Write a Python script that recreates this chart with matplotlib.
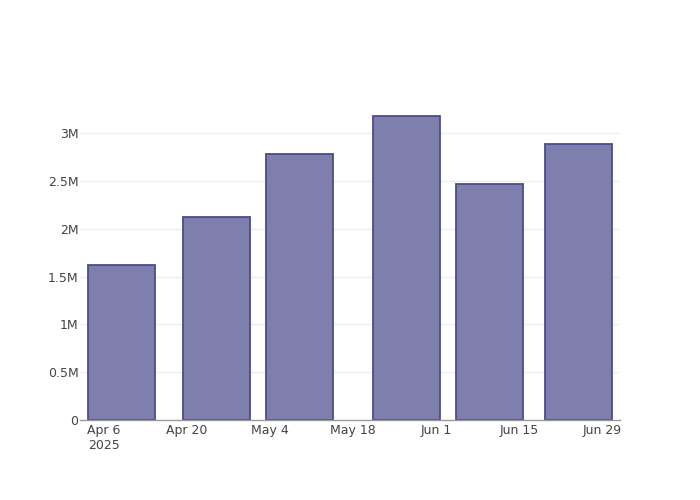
import datetime as dt
import matplotlib
matplotlib.use("Agg")
import matplotlib.pyplot as plt
import matplotlib.dates as mdates

# data
bar_dates = ["2025-04-09", "2025-04-25", "2025-05-09", "2025-05-27", "2025-06-10", "2025-06-25"]
bar_values = [1.62e6, 2.12e6, 2.78e6, 3.18e6, 2.47e6, 2.89e6]
tick_dates = ["2025-04-06", "2025-04-20", "2025-05-04", "2025-05-18", "2025-06-01", "2025-06-15", "2025-06-29"]
tick_labels = ["Apr 6\n2025", "Apr 20", "May 4", "May 18", "Jun 1", "Jun 15", "Jun 29"]
y_ticks = [0, 0.5e6, 1e6, 1.5e6, 2e6, 2.5e6, 3e6]
y_labels = ["0", "0.5M", "1M", "1.5M", "2M", "2.5M", "3M"]

to_dt = lambda s: dt.datetime.strptime(s, "%Y-%m-%d")
x = [mdates.date2num(to_dt(d)) for d in bar_dates]
xt = [mdates.date2num(to_dt(d)) for d in tick_dates]

plt.rcParams["font.family"] = ["DejaVu Sans"]
fig = plt.figure(figsize=(7, 5), dpi=100)
ax = fig.add_axes([80 / 700, 80 / 500, 540 / 700, 320 / 500])

ax.bar(x, bar_values, width=11.4, color="#7f7fad", edgecolor="#4c4b8b", linewidth=1.3, zorder=3)

ax.set_xlim(mdates.date2num(to_dt("2025-04-02")), mdates.date2num(to_dt("2025-07-02")))
ax.set_ylim(0, 3.347e6)
ax.set_xticks(xt)
ax.set_xticklabels(tick_labels, ha="center", va="top", linespacing=1.2)
ax.set_yticks(y_ticks)
ax.set_yticklabels(y_labels)
ax.tick_params(axis="both", length=0, labelsize=9, colors="#444444")
ax.tick_params(axis="x", pad=3)
ax.tick_params(axis="y", pad=1)

for y in y_ticks[1:]:
    ax.axhline(y, color="#eeeeee", linewidth=1, zorder=0)

for side in ["top", "right", "left"]:
    ax.spines[side].set_visible(False)
ax.spines["bottom"].set_color("#999999")
ax.spines["bottom"].set_linewidth(1)
ax.spines["bottom"].set_zorder(4)

fig.savefig("out.png", dpi=100)
